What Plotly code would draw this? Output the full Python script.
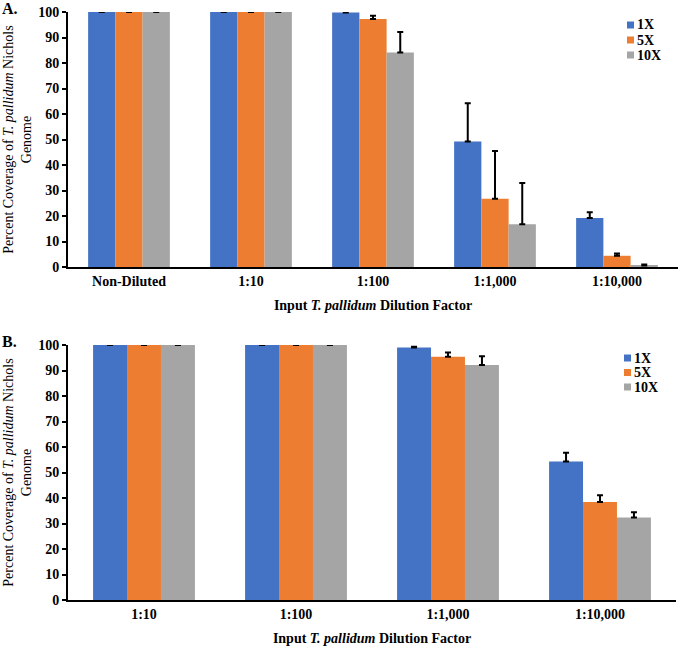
import plotly.graph_objects as go

# Panel A data
cats_a = ["Non-Diluted", "1:10", "1:100", "1:1,000", "1:10,000"]
a_1x = [100, 100, 99.8, 49.2, 19.2]
a_5x = [100, 100, 97.3, 26.8, 4.4]
a_10x = [100, 100, 84.1, 16.8, 0.6]
a_1x_err = [0.1, 0.1, 0.1, 15.0, 2.3]
a_5x_err = [0.1, 0.1, 1.2, 18.7, 0.9]
a_10x_err = [0.1, 0.1, 8.1, 16.1, 0.4]

# Panel B data
cats_b = ["1:10", "1:100", "1:1,000", "1:10,000"]
b_1x = [100, 100, 99.0, 54.3]
b_5x = [100, 100, 95.4, 38.4]
b_10x = [100, 100, 92.2, 32.4]
b_1x_err = [0.1, 0.1, 0.3, 3.4]
b_5x_err = [0.1, 0.1, 1.7, 2.7]
b_10x_err = [0.1, 0.1, 3.4, 2.0]

series_names = ["1X", "5X", "10X"]
colors = ["#4472C4", "#ED7D31", "#A5A5A5"]

SERIF = "Liberation Serif"
W, H = 680, 648

fig = go.Figure()

def add_panel(cats, vals, errs, xa, ya):
    for name, v, e, c in zip(series_names, vals, errs, colors):
        fig.add_trace(go.Bar(
            x=cats, y=v, name=name, marker=dict(color=c, line=dict(width=0)),
            error_y=dict(type="data", array=e, arrayminus=[0]*len(e), symmetric=False,
                         color="black", thickness=2, width=3),
            xaxis=xa, yaxis=ya, showlegend=False,
        ))

add_panel(cats_a, [a_1x, a_5x, a_10x], [a_1x_err, a_5x_err, a_10x_err], "x", "y")
add_panel(cats_b, [b_1x, b_5x, b_10x], [b_1x_err, b_5x_err, b_10x_err], "x2", "y2")

tickfont = dict(family=SERIF, size=14, color="black", weight="bold")
ytitle = "Percent Coverage of <i>T. pallidum</i> Nichols<br>Genome"
xtitle = "<b>Input <i>T. pallidum</i> Dilution Factor</b>"

xcommon = dict(showline=True, linecolor="black", linewidth=2, ticks="", showgrid=False,
               tickfont=tickfont, zeroline=False, automargin=False,
               title=dict(text=xtitle, font=dict(family=SERIF, size=14, color="black"), standoff=12))
ycommon = dict(range=[0, 100], dtick=10, showline=True, linecolor="black", linewidth=2,
               showgrid=False, zeroline=False,
               ticks="outside", ticklen=4, tickwidth=2, tickcolor="black",
               tickfont=tickfont, automargin=False,
               title=dict(text=ytitle, font=dict(family=SERIF, size=14, color="black"), standoff=3))

# manual legends (pixel positions of swatches)
shapes = []
annotations = []
def add_legend(x_px, y_px_list):
    for name, c, yc in zip(series_names, colors, y_px_list):
        shapes.append(dict(type="rect", xref="paper", yref="paper",
                           x0=x_px / W, x1=(x_px + 7) / W,
                           y0=1 - (yc + 3.5) / H, y1=1 - (yc - 3.5) / H,
                           fillcolor=c, line=dict(width=0)))
        annotations.append(dict(text="<b>%s</b>" % name, xref="paper", yref="paper",
                                x=(x_px + 8) / W, y=1 - yc / H, xanchor="left", yanchor="middle",
                                showarrow=False, font=dict(family=SERIF, size=14, color="black")))

add_legend(627, [25, 40, 55])
add_legend(624, [358, 372.5, 387])

annotations += [
    dict(text="<b>A.</b>", x=0, y=1 - 9 / H, xref="paper", yref="paper", xanchor="left",
         yanchor="middle", showarrow=False, font=dict(family=SERIF, size=16, color="black")),
    dict(text="<b>B.</b>", x=0, y=1 - 341 / H, xref="paper", yref="paper", xanchor="left",
         yanchor="middle", showarrow=False, font=dict(family=SERIF, size=16, color="black")),
]

fig.update_layout(
    width=W, height=H,
    margin=dict(l=0, r=0, t=0, b=0, autoexpand=False),
    paper_bgcolor="white", plot_bgcolor="white",
    barmode="group", bargap=0.33, bargroupgap=0,
    xaxis=dict(domain=[68 / W, 678 / W], anchor="y", **xcommon),
    yaxis=dict(domain=[1 - 267 / H, 1 - 12 / H], anchor="x", **ycommon),
    xaxis2=dict(domain=[68 / W, 676 / W], anchor="y2", **xcommon),
    yaxis2=dict(domain=[1 - 600 / H, 1 - 345 / H], anchor="x2", **ycommon),
    shapes=shapes,
    annotations=annotations,
)

fig.write_html("out.html", config={"displayModeBar": False},
               post_script="document.body.style.margin='0';")
